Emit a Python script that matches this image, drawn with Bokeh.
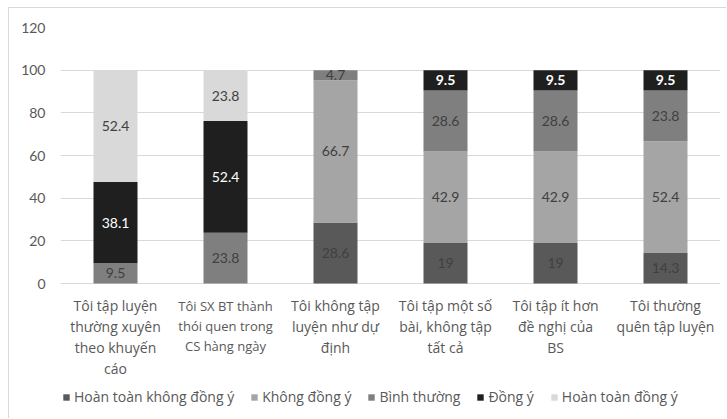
from bokeh.plotting import figure
from bokeh.models import (ColumnDataSource, FactorRange, Range1d, FixedTicker,
                          Legend, LegendItem)
from bokeh.core.properties import value
from bokeh.embed import file_html
from bokeh.resources import INLINE

# ---- data ----
categories = [
    "Tôi tập luyện thường xuyên theo khuyến cáo",
    "Tôi SX BT thành thói quen trong CS hàng ngày",
    "Tôi không tập luyện như dự định",
    "Tôi tập một số bài, không tập tất cả",
    "Tôi tập ít hơn đề nghị của BS",
    "Tôi thường quên tập luyện",
]
tick_labels = [
    "Tôi tập luyện\nthường xuyên\ntheo khuyến\ncáo",
    "Tôi SX BT thành\nthói quen trong\nCS hàng ngày",
    "Tôi không tập\nluyện như dự\nđịnh",
    "Tôi tập một số\nbài, không tập\ntất cả",
    "Tôi tập ít hơn\nđề nghị của\nBS",
    "Tôi thường\nquên tập luyện",
]
series_names = ["Hoàn toàn không đồng ý", "Không đồng ý", "Bình thường",
                "Đồng ý", "Hoàn toàn đồng ý"]
hoan_toan_khong_dong_y = [0, 0, 28.6, 19, 19, 14.3]
khong_dong_y = [0, 0, 66.7, 42.9, 42.9, 52.4]
binh_thuong = [9.5, 23.8, 4.7, 28.6, 28.6, 23.8]
dong_y = [38.1, 52.4, 0, 9.5, 9.5, 9.5]
hoan_toan_dong_y = [52.4, 23.8, 0, 0, 0, 0]
y_ticks = [0, 20, 40, 60, 80, 100, 120]

series_values = [hoan_toan_khong_dong_y, khong_dong_y, binh_thuong, dong_y, hoan_toan_dong_y]
colors = ["#595959", "#a5a5a5", "#7f7f7f", "#1f1f1f", "#d9d9d9"]
label_colors = ["#404040", "#404040", "#404040", "#ffffff", "#404040"]
keys = ["s0", "s1", "s2", "s3", "s4"]

FONT = "Lato"
FONT2 = "Open Sans"
PX_PER_UNIT = 256 / 120.0  # frame: 0..120 spans 256 px

data = {"cat": categories}
for k, v in zip(keys, series_values):
    data[k] = v
source = ColumnDataSource(data)

# frame extends below zero so category labels and legend are drawn inside it
y_bottom = -136 / PX_PER_UNIT

p = figure(x_range=FactorRange(factors=categories), y_range=Range1d(y_bottom, 120),
           width=718, height=411, output_backend="svg", toolbar_location=None,
           min_border_left=51, min_border_right=7, min_border_top=19, min_border_bottom=0)
p.styles = {"margin-left": "8px", "margin-top": "7px",
            "border-left": "1px solid #d9d9d9", "border-top": "1px solid #d9d9d9"}
p.outline_line_color = None
p.background_fill_color = "white"
p.border_fill_color = "white"

renderers = p.vbar_stack(keys, x="cat", width=0.4, color=colors, line_color=None, source=source)

# segment labels
lx, ly, lt, lc, lw = [], [], [], [], []
for i, cat in enumerate(categories):
    bottom = 0.0
    for s, vals in enumerate(series_values):
        v = vals[i]
        if v > 0:
            lx.append(cat)
            ly.append(bottom + v / 2)
            lt.append(f"{v:g}")
            lc.append(label_colors[s])
            lw.append("bold" if (s == 3 and bottom > 80) else "normal")
        bottom += v
lsrc = ColumnDataSource(dict(x=lx, y=ly, t=lt, c=lc, w=lw))
p.text(x="x", y="y", text="t", text_color="c", text_font_style="w", source=lsrc,
       text_align="center", text_baseline="middle", text_font=value(FONT),
       text_font_size="14px")

# category labels (drawn below the zero line)
big = [i for i in range(len(categories)) if i != 1]
small = [1]
src_big = ColumnDataSource(dict(x=[categories[i] for i in big],
                                y=[-12 / PX_PER_UNIT] * len(big),
                                t=[tick_labels[i] for i in big]))
src_small = ColumnDataSource(dict(x=[categories[i] for i in small],
                                  y=[-13.5 / PX_PER_UNIT] * len(small),
                                  t=[tick_labels[i] for i in small]))
p.text(x="x", y="y", text="t", source=src_big, text_align="center", text_baseline="top",
       text_font=value(FONT2), text_font_size="14px", text_line_height=1.12,
       text_color="#595959")
p.text(x="x", y="y", text="t", source=src_small, text_align="center", text_baseline="top",
       text_font=value(FONT2), text_font_size="13px", text_line_height=1.12,
       text_color="#595959")

# axes
p.xaxis.visible = False
p.xgrid.grid_line_color = None
p.ygrid.grid_line_color = "#d9d9d9"
p.ygrid.ticker = FixedTicker(ticks=y_ticks)
p.yaxis.ticker = FixedTicker(ticks=y_ticks)
p.yaxis.axis_line_color = None
p.yaxis.major_tick_line_color = None
p.yaxis.minor_tick_line_color = None
p.yaxis.major_tick_out = 0
p.yaxis.major_tick_in = 0
p.yaxis.major_label_standoff = 15
p.yaxis.major_label_text_font = FONT
p.yaxis.major_label_text_font_size = "14px"
p.yaxis.major_label_text_color = "#595959"

# legend
items = [LegendItem(label=n, renderers=[r]) for n, r in zip(series_names, renderers)]
legend = Legend(items=items, location=(2, 13), orientation="horizontal",
                glyph_width=8, glyph_height=8, label_standoff=4, spacing=16,
                padding=0, margin=0, border_line_alpha=0, background_fill_alpha=0,
                label_text_font=FONT2, label_text_font_size="14px", label_text_color="#595959")
p.add_layout(legend)

open("out.html", "w").write(file_html(p, INLINE))
